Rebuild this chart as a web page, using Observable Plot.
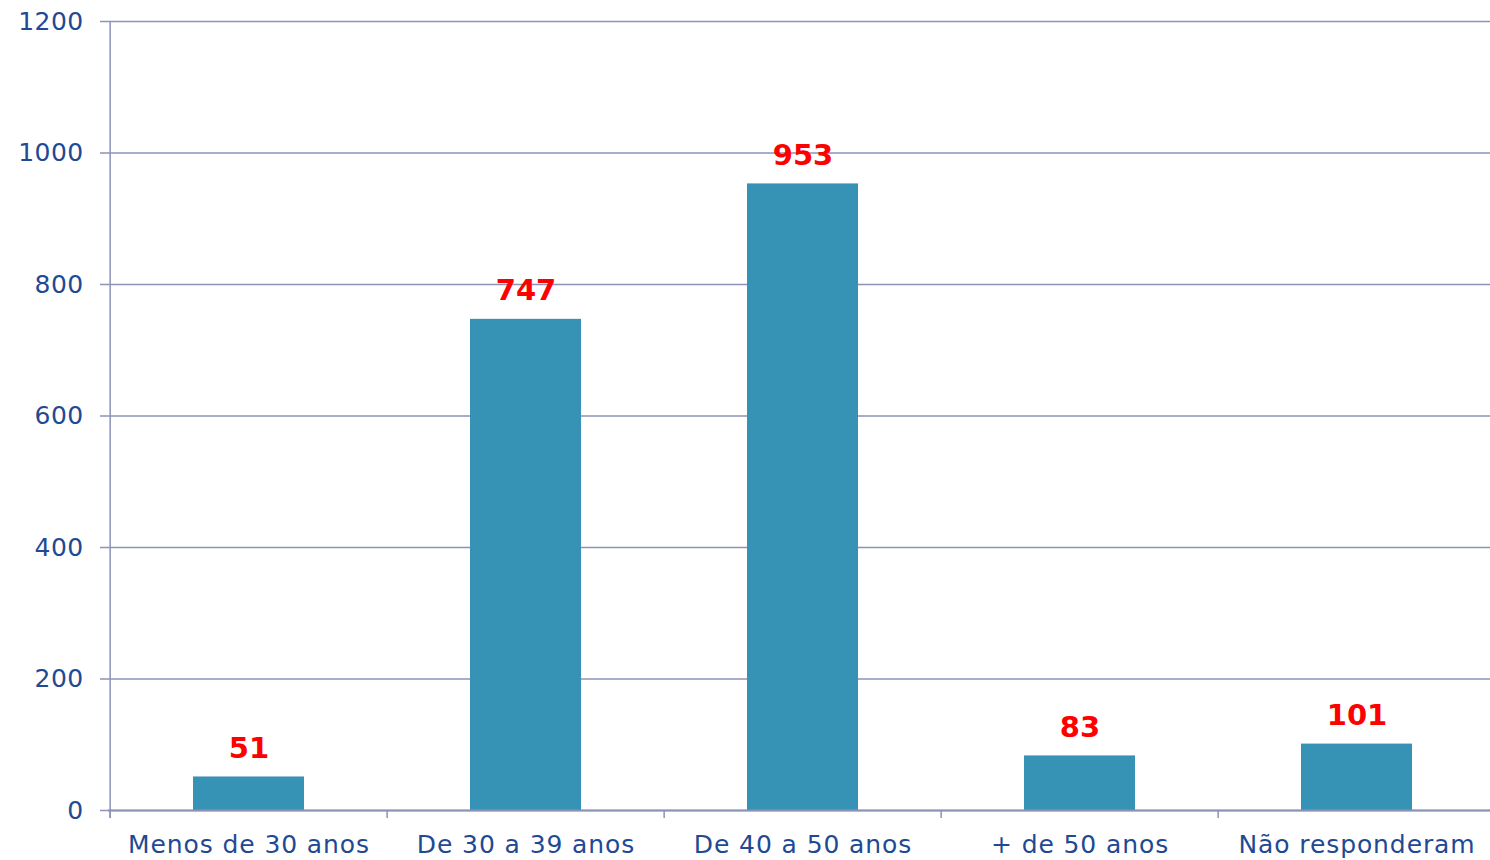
<!DOCTYPE html>
<html>
<head>
<meta charset="utf-8">
<script src="https://cdn.jsdelivr.net/npm/d3@7"></script>
<script src="https://cdn.jsdelivr.net/npm/@observablehq/plot@0.6"></script>
<style>
  html, body { margin: 0; padding: 0; background: #fff; }
  #chart { width: 1490px; height: 860px; overflow: hidden; }
  svg { font-family: "DejaVu Sans", Verdana, sans-serif; }
  g[aria-label="x-axis tick label"] text { letter-spacing: 0.9px; }
  g[aria-label="y-axis tick label"] text { letter-spacing: 0.4px; }
</style>
</head>
<body>
<div id="chart"></div>
<script>
const categories = ["Menos de 30 anos", "De 30 a 39 anos", "De 40 a 50 anos", "+ de 50 anos", "Não responderam"];
const values = [51, 747, 953, 83, 101];
const yTicks = [0, 200, 400, 600, 800, 1000, 1200];

const data = categories.map((c, i) => ({category: c, value: values[i]}));

const W = 1490, H = 860;
const mL = 108, mR = -6.5, mT = 21, mB = 50;
const step = (W - mL - mR) / categories.length;

const gridColor = "#8C92B8";
const textColor = "#1F4A93";

const chart = Plot.plot({
  width: W,
  height: H,
  marginLeft: mL,
  marginRight: mR,
  marginTop: mT,
  marginBottom: mB,
  style: {fontFamily: "'DejaVu Sans', Verdana, sans-serif", background: "#fff", overflow: "hidden"},
  x: {domain: categories, paddingInner: 0.6, paddingOuter: 0.3, label: null},
  y: {domain: [0, 1200], label: null},
  marks: [
    Plot.gridY(yTicks, {stroke: gridColor, strokeOpacity: 1, strokeWidth: 1.5}),
    Plot.axisY(yTicks, {
      tickSize: 8, tickPadding: 17, stroke: gridColor, strokeWidth: 1.5,
      fill: textColor, fontSize: 25, label: null,
      tickFormat: d => String(d)
    }),
    Plot.ruleX([categories[0]], {
      dx: -step / 2, insetBottom: -8, stroke: gridColor, strokeWidth: 1.5
    }),
    Plot.barY(data, {x: "category", y: "value", fill: "#3793B5"}),
    Plot.ruleY([0], {stroke: gridColor, strokeWidth: 2}),
    Plot.ruleX(data, {
      x: "category", y1: 0, y2: 0, insetBottom: -8,
      dx: -step / 2, stroke: gridColor, strokeWidth: 1.5
    }),
    Plot.axisX({
      tickSize: 0, tickPadding: 25, fill: textColor, fontSize: 25, label: null
    }),
    Plot.text(data, {
      x: "category", y: "value", text: d => String(d.value),
      lineAnchor: "bottom", dy: -19, fill: "#FF0000",
      fontSize: 29, fontWeight: "bold", letterSpacing: 0.4
    })
  ]
});

document.getElementById("chart").appendChild(chart);
</script>
</body>
</html>
